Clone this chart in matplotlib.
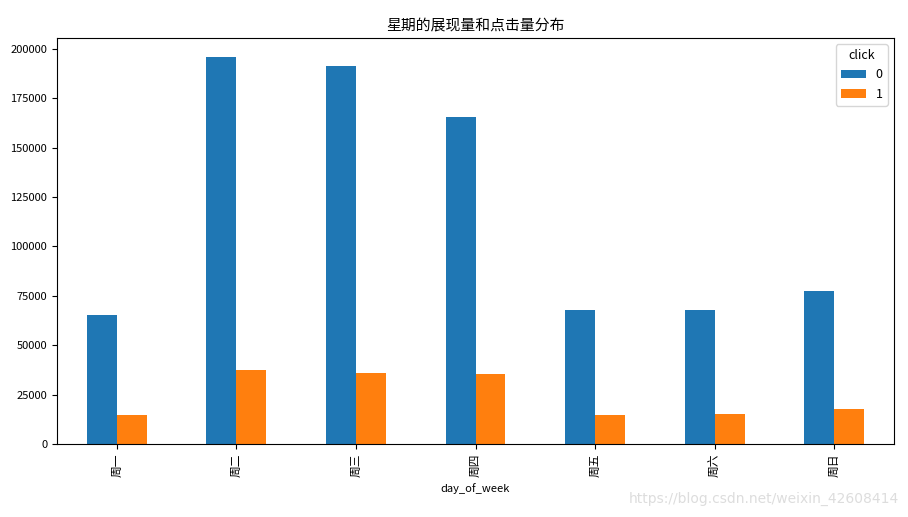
import matplotlib
matplotlib.use("Agg")
import matplotlib.pyplot as plt
import numpy as np

plt.rcParams['font.family'] = ['Noto Sans CJK SC', 'DejaVu Sans']
plt.rcParams['axes.unicode_minus'] = False

days = ['周一', '周二', '周三', '周四', '周五', '周六', '周日']
click_0 = [65500, 195900, 191400, 165600, 68000, 68000, 77400]
click_1 = [14500, 37700, 35700, 35200, 14500, 15000, 17700]
series_labels = ['0', '1']

fig = plt.figure(figsize=(9.08, 5.17), dpi=100)
ax = fig.add_axes([0.0628, 0.1412, 0.9218, 0.7853])

x = np.arange(len(days))
w = 0.25
ax.bar(x - w / 2, click_0, width=w, color='#1f77b4', label=series_labels[0])
ax.bar(x + w / 2, click_1, width=w, color='#ff7f0e', label=series_labels[1])

ax.set_xlim(-0.5, len(days) - 0.5)
ax.set_ylim(0, 205500)
ax.set_yticks(np.arange(0, 200001, 25000))
ax.set_xticks(x)
ax.set_xticklabels(days, rotation=90, fontsize=8.5)
ax.tick_params(axis='y', labelsize=8)
ax.set_xlabel('day_of_week', fontsize=8)
ax.set_title('星期的展现量和点击量分布', fontsize=10.7)
ax.legend(title='click', loc='upper right', fontsize=9, title_fontsize=9)

fig.text(0.99, 0.035, 'https://blog.csdn.net/weixin_42608414', ha='right', va='center',
         fontsize=10, color='#dddddd', family=['DejaVu Sans'])

fig.savefig('out.png', dpi=100)
